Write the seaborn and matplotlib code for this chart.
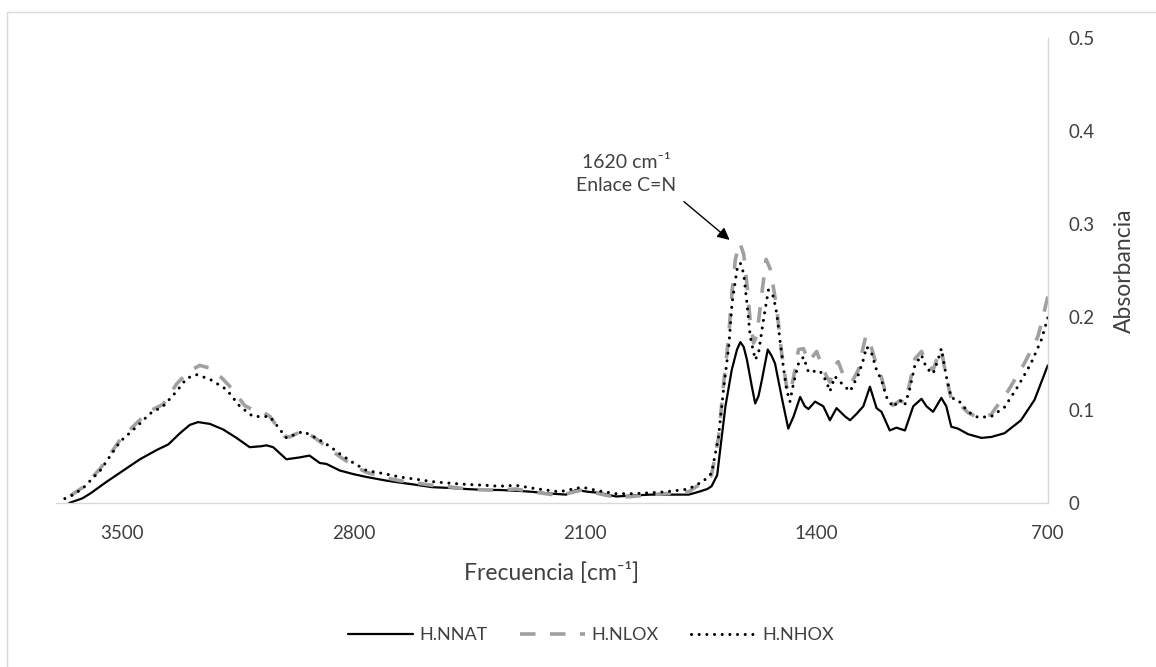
import matplotlib
matplotlib.use("Agg")
import matplotlib.pyplot as plt
import matplotlib.patches as patches
import seaborn as sns

# wavenumber [cm-1] and absorbance
nnat_wn = [3660, 3620, 3597, 3546, 3496, 3446, 3395, 3360, 3325, 3295, 3270, 3234, 3194, 3154,
           3114, 3080, 3063, 3043, 3003, 2963, 2933, 2902, 2882, 2842, 2800, 2761, 2700, 2661,
           2600, 2562, 2500, 2459, 2400, 2359, 2300, 2260, 2200, 2157, 2127, 2090, 2058, 2006,
           1958, 1900, 1856, 1786, 1756, 1730, 1717, 1700, 1690, 1675, 1656, 1640, 1630, 1620,
           1610, 1595, 1585, 1575, 1565, 1547, 1535, 1525, 1505, 1485, 1469, 1449, 1435, 1424,
           1404, 1379, 1359, 1339, 1313, 1298, 1278, 1258, 1238, 1218, 1203, 1178, 1158, 1132,
           1107, 1082, 1067, 1047, 1022, 1007, 992, 972, 941, 901, 871, 831, 781, 740, 700]
nnat_abs = [0.000, 0.005, 0.010, 0.023, 0.035, 0.047, 0.057, 0.063, 0.075, 0.084, 0.087, 0.085,
            0.079, 0.070, 0.060, 0.061, 0.062, 0.060, 0.047, 0.049, 0.051, 0.043, 0.042, 0.035,
            0.031, 0.028, 0.024, 0.022, 0.019, 0.017, 0.016, 0.015, 0.014, 0.014, 0.013, 0.012,
            0.010, 0.009, 0.014, 0.012, 0.011, 0.007, 0.008, 0.009, 0.009, 0.009, 0.012, 0.015,
            0.018, 0.030, 0.060, 0.104, 0.143, 0.165, 0.173, 0.168, 0.154, 0.125, 0.107, 0.115,
            0.132, 0.165, 0.158, 0.150, 0.114, 0.080, 0.093, 0.114, 0.104, 0.101, 0.109, 0.104,
            0.089, 0.102, 0.093, 0.089, 0.096, 0.104, 0.125, 0.102, 0.098, 0.078, 0.081, 0.078,
            0.104, 0.112, 0.104, 0.098, 0.113, 0.104, 0.082, 0.080, 0.074, 0.070, 0.071, 0.075,
            0.089, 0.111, 0.148]

nlox_wn = [3680, 3647, 3618, 3566, 3506, 3456, 3416, 3376, 3335, 3300, 3265, 3234, 3200, 3165,
           3130, 3104, 3070, 3053, 3010, 2993, 2953, 2913, 2872, 2842, 2800, 2761, 2700, 2661,
           2600, 2562, 2500, 2459, 2400, 2359, 2309, 2260, 2178, 2109, 2058, 2006, 1958, 1900,
           1856, 1786, 1762, 1746, 1717, 1696, 1680, 1665, 1655, 1645, 1632, 1620, 1610, 1600,
           1590, 1580, 1565, 1552, 1540, 1530, 1520, 1505, 1490, 1480, 1469, 1454, 1439, 1424,
           1410, 1399, 1384, 1369, 1359, 1344, 1334, 1319, 1293, 1273, 1258, 1250, 1240, 1218,
           1203, 1188, 1168, 1148, 1133, 1118, 1102, 1082, 1067, 1047, 1032, 1022, 1007, 992,
           972, 941, 911, 871, 862, 821, 771, 730, 720, 700]
nlox_abs = [0.002, 0.010, 0.017, 0.037, 0.068, 0.086, 0.099, 0.106, 0.128, 0.141, 0.148, 0.145,
            0.135, 0.122, 0.105, 0.100, 0.097, 0.093, 0.072, 0.071, 0.078, 0.069, 0.058, 0.050,
            0.040, 0.033, 0.027, 0.024, 0.021, 0.019, 0.017, 0.015, 0.014, 0.014, 0.015, 0.012,
            0.008, 0.014, 0.010, 0.006, 0.007, 0.009, 0.010, 0.012, 0.018, 0.020, 0.030, 0.070,
            0.130, 0.180, 0.228, 0.262, 0.280, 0.268, 0.235, 0.195, 0.172, 0.180, 0.225, 0.262,
            0.252, 0.232, 0.210, 0.161, 0.125, 0.118, 0.135, 0.165, 0.166, 0.152, 0.158, 0.163,
            0.148, 0.136, 0.130, 0.148, 0.152, 0.138, 0.130, 0.143, 0.168, 0.180, 0.175, 0.148,
            0.135, 0.115, 0.105, 0.110, 0.108, 0.128, 0.155, 0.163, 0.150, 0.143, 0.158, 0.165,
            0.135, 0.112, 0.108, 0.097, 0.092, 0.095, 0.100, 0.120, 0.150, 0.179, 0.192, 0.222]

nhox_wn = [3690, 3647, 3618, 3566, 3506, 3456, 3416, 3376, 3335, 3305, 3275, 3234, 3184, 3144,
           3104, 3053, 3003, 2953, 2913, 2872, 2842, 2800, 2761, 2700, 2661, 2600, 2562, 2500,
           2459, 2400, 2359, 2309, 2260, 2178, 2109, 2058, 2006, 1958, 1900, 1856, 1786, 1762,
           1746, 1717, 1696, 1680, 1665, 1655, 1640, 1630, 1620, 1610, 1600, 1585, 1575, 1560,
           1545, 1530, 1520, 1510, 1500, 1490, 1480, 1469, 1454, 1439, 1424, 1414, 1400, 1384,
           1369, 1359, 1344, 1319, 1298, 1273, 1258, 1248, 1233, 1218, 1203, 1188, 1168, 1148,
           1133, 1118, 1102, 1082, 1067, 1047, 1032, 1022, 1007, 992, 972, 941, 911, 871, 831,
           791, 751, 720, 700]
nhox_abs = [0.002, 0.009, 0.016, 0.035, 0.066, 0.082, 0.096, 0.104, 0.120, 0.134, 0.138, 0.133,
            0.122, 0.104, 0.093, 0.093, 0.070, 0.077, 0.070, 0.061, 0.053, 0.043, 0.035, 0.031,
            0.028, 0.025, 0.023, 0.021, 0.020, 0.019, 0.018, 0.019, 0.016, 0.012, 0.017, 0.013,
            0.010, 0.010, 0.011, 0.012, 0.015, 0.020, 0.022, 0.032, 0.071, 0.125, 0.168, 0.215,
            0.251, 0.258, 0.247, 0.215, 0.179, 0.154, 0.161, 0.197, 0.229, 0.222, 0.204, 0.175,
            0.147, 0.122, 0.109, 0.129, 0.150, 0.157, 0.141, 0.140, 0.143, 0.140, 0.130, 0.120,
            0.136, 0.127, 0.120, 0.138, 0.154, 0.168, 0.161, 0.143, 0.132, 0.114, 0.103, 0.111,
            0.105, 0.122, 0.148, 0.159, 0.145, 0.139, 0.154, 0.166, 0.136, 0.113, 0.111, 0.098,
            0.092, 0.093, 0.103, 0.125, 0.150, 0.175, 0.199]

x_ticks = [3500, 2800, 2100, 1400, 700]
y_ticks = [0, 0.1, 0.2, 0.3, 0.4, 0.5]
y_labels = ["0", "0.1", "0.2", "0.3", "0.4", "0.5"]

sns.set_theme(style="white")
plt.rcParams["font.family"] = ["Lato", "DejaVu Sans"]
txt = "#404040"

fig = plt.figure(figsize=(11.56, 6.67), dpi=100)
ax = fig.add_axes([0.0484, 0.2459, 0.858, 0.6971])

sns.lineplot(x=nnat_wn, y=nnat_abs, ax=ax, color="black", lw=1.6, label="H.NNAT")
sns.lineplot(x=nlox_wn, y=nlox_abs, ax=ax, color="#a0a0a0", lw=2.6, label="H.NLOX")
ax.lines[-1].set_dashes((4.3, 4.0))
sns.lineplot(x=nhox_wn, y=nhox_abs, ax=ax, color="black", lw=2.2, label="H.NHOX")
ax.lines[-1].set_dashes((0.01, 2.5))
ax.lines[-1].set_dash_capstyle("round")

ax.set_xlim(3700, 700)
ax.set_ylim(0, 0.5)
ax.set_xticks(x_ticks)
ax.set_xticklabels([str(t) for t in x_ticks])
ax.yaxis.tick_right()
ax.yaxis.set_label_position("right")
ax.set_yticks(y_ticks)
ax.set_yticklabels(y_labels)
ax.tick_params(axis="both", length=0, labelsize=13.5, colors=txt)
ax.tick_params(axis="x", pad=15.5)
ax.tick_params(axis="y", pad=15)

for s in ["left", "top"]:
    ax.spines[s].set_visible(False)
for s in ["right", "bottom"]:
    ax.spines[s].set_color("#d9d9d9")
    ax.spines[s].set_linewidth(1)

ax.set_xlabel("Frecuencia [cm\u207b\u00b9]", fontsize=16.5, color=txt, labelpad=15)
ax.set_ylabel("Absorbancia", fontsize=16.5, color=txt, labelpad=14)

ax.text(1976, 0.354, "1620 cm\u207b\u00b9\nEnlace C=N", ha="center", va="center",
        fontsize=14, color=txt, linespacing=1.45)
ax.annotate("", xy=(1656, 0.281), xytext=(1807, 0.326),
            arrowprops=dict(arrowstyle="-|>", color="black", lw=1, mutation_scale=18))

leg = ax.legend(loc="center", bbox_to_anchor=(591 / 1156, 1 - 635 / 667),
                bbox_transform=fig.transFigure, ncol=3, frameon=False, fontsize=13,
                handlelength=3.6, handletextpad=0.35, columnspacing=1.8)
for t in leg.get_texts():
    t.set_color(txt)

fig.patches.append(patches.Rectangle((7 / 1156, -0.1), 1.2, 1 - 12 / 667 + 0.1,
                                     transform=fig.transFigure, fill=False,
                                     ec="#d9d9d9", lw=1))

fig.savefig("out.png", dpi=100)
